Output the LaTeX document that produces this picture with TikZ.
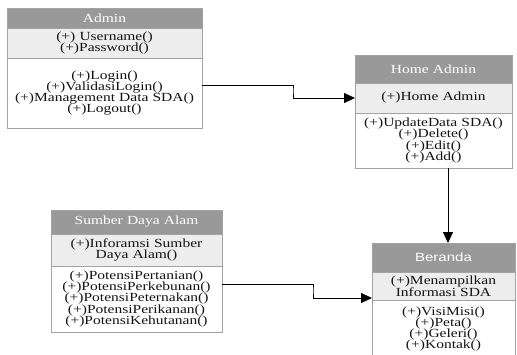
\documentclass[tikz,border=0pt]{standalone}
\usepackage{fontspec}
\setmainfont{Liberation Serif}[FakeStretch=1.25]
\newfontfamily\headsans{Liberation Sans}[FakeStretch=1.25]
\usetikzlibrary{arrows.meta, positioning, calc}
\definecolor{cborder}{HTML}{A3A3A3}
\definecolor{chead}{HTML}{999999}
\definecolor{cattr}{HTML}{EDEDED}
\definecolor{ctext}{HTML}{141414}
\tikzset{
  every picture/.style={font=\fontsize{12.4}{11.3}\selectfont, line width=0.8pt},
  part/.style={draw=cborder, anchor=north west, align=center, inner xsep=0pt, inner ysep=1pt, outer sep=0pt, text=ctext},
  head/.style={part, fill=chead, text=white},
  attr/.style={part, fill=cattr},
  meth/.style={part, fill=white},
  arrow/.style={-{Triangle[length=11pt, width=10pt]}, draw=black, line width=0.8pt},
}

\begin{document}
\begin{tikzpicture}[x=1pt, y=-1pt]
  \useasboundingbox (0,0) rectangle (517,354);
  % Admin
  \node[head, text width=195pt, minimum height=20pt] (ah) at (7,8) {Admin};
  \node[attr, text width=195pt, minimum height=30pt] (aa) at (ah.south west) {(+) Username()\\(+)Password()};
  \node[meth, text width=195pt, minimum height=70pt] (am) at (aa.south west)
    {(+)Login()\\(+)ValidasiLogin()\\(+)Management Data SDA()\\(+)Logout()};
  % Home Admin
  \node[head, text width=157pt, minimum height=28pt] (hh) at (355,55) {Home Admin};
  \node[attr, text width=157pt, minimum height=30pt] (ha) at (hh.south west) {(+)Home Admin};
  \node[meth, text width=157pt, minimum height=55pt] (hm) at (ha.south west)
    {(+)UpdateData SDA()\\(+)Delete()\\(+)Edit()\\(+)Add()};
  % Sumber Daya Alam
  \node[head, text width=171pt, minimum height=24pt] (sh) at (51,210) {Sumber Daya Alam};
  \node[attr, text width=171pt, minimum height=32pt] (sa) at (sh.south west) {(+)Inforamsi Sumber\\Daya Alam()};
  \node[meth, text width=171pt, minimum height=66pt] (sm) at (sa.south west)
    {(+)PotensiPertanian()\\(+)PotensiPerkebunan()\\(+)PotensiPeternakan()\\(+)PotensiPerikanan()\\(+)PotensiKehutanan()};
  % Beranda
  \node[head, text width=143pt, minimum height=29pt, font=\headsans\fontsize{12}{11.3}\selectfont] (bh) at (372,243) {Beranda};
  \node[attr, text width=143pt, minimum height=28pt] (ba) at (bh.south west) {(+)Menampilkan\\Informasi SDA};
  \node[meth, text width=143pt, minimum height=58pt] (bm) at (ba.south west)
    {(+)VisiMisi()\\(+)Peta()\\(+)Geleri()\\(+)Kontak()};
  % connectors
  \coordinate (kA) at (293,90);
  \coordinate (kS) at (313,290);
  \draw[arrow] ([yshift=8pt]am.east) -| (kA) |- (ha.west);
  \draw[arrow] ([yshift=15pt]sm.east) -| (kS) |- ([yshift=-12pt]ba.west);
  \draw[arrow] ([xshift=14.5pt]hm.south) -- ([xshift=4.5pt]bh.north);
\end{tikzpicture}
\end{document}
